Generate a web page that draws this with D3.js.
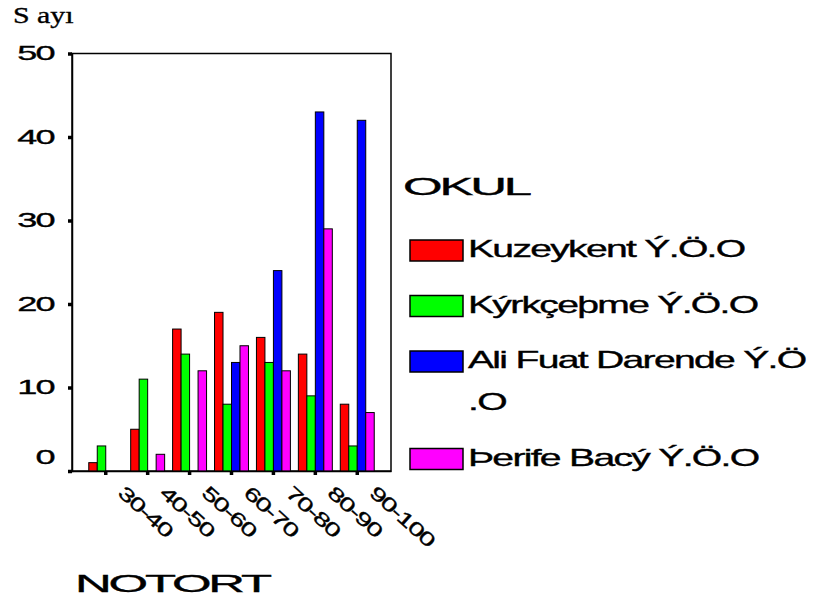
<!DOCTYPE html>
<html>
<head>
<meta charset="utf-8">
<script src="https://cdn.jsdelivr.net/npm/d3@7"></script>
<style>
  html, body { margin: 0; padding: 0; background: #fff; }
  svg { display: block; }
  text { font-family: "Liberation Sans", Arial, sans-serif; fill: #000; stroke: #000; stroke-width: 0.35; }
</style>
</head>
<body>
<svg id="chart" width="820" height="606"></svg>
<script>
// ---- data ----
const categories = ["30-40", "40-50", "50-60", "60-70", "70-80", "80-90", "90-100"];
const seriesNames = ["Kuzeykent Ý.Ö.O", "Kýrkçeþme Ý.Ö.O", "Ali Fuat Darende Ý.Ö.O", "Þerife Bacý Ý.Ö.O"];
const legendLines = [["Kuzeykent Ý.Ö.O"], ["Kýrkçeþme Ý.Ö.O"], ["Ali Fuat Darende Ý.Ö", ".O"], ["Þerife Bacý Ý.Ö.O"]];
const kuzeykent = [1, 5, 17, 19, 16, 14, 8];
const kirkcesme = [3, 11, 14, 8, 13, 9, 3];
const aliFuat   = [0, 0, 0, 13, 24, 43, 42];
const serife    = [0, 2, 12, 15, 12, 29, 7];
const yTicks = [0, 10, 20, 30, 40, 50];
const colors = ["#ff0000", "#00ff00", "#0000ff", "#ff00ff"];
const yTitle = "S ayı";
const xTitle = "NOTORT";
const legendTitle = "OKUL";

const seriesValues = [kuzeykent, kirkcesme, aliFuat, serife];

// ---- layout ----
const plot = { left: 72, right: 391, top: 53.5, bottom: 471 };
const svg = d3.select("#chart");

const x = d3.scaleBand().domain(categories).range([plot.left, plot.right])
  .paddingInner(0.19).paddingOuter(0.4);
const xs = d3.scaleBand().domain(d3.range(seriesNames.length)).range([0, x.bandwidth()]);
const y = d3.scaleLinear().domain([0, 50]).range([plot.bottom, plot.top]);

// stretched text helper
function stretched(parent, tx, ty, str, size, sx, anchor, opts) {
  opts = opts || {};
  const g = parent.append("g").attr("transform", `translate(${tx},${ty})` + (opts.rot ? ` rotate(${opts.rot})` : ""));
  const t = g.append("text").attr("transform", `scale(${sx},1)`)
    .attr("font-size", size).attr("text-anchor", anchor || "start").text(str);
  if (opts.family) t.style("font-family", opts.family);
  if (opts.ls != null) t.attr("letter-spacing", opts.ls);
  return t;
}

// frame
svg.append("rect")
  .attr("x", plot.left).attr("y", plot.top)
  .attr("width", plot.right - plot.left).attr("height", plot.bottom - plot.top)
  .attr("fill", "none").attr("stroke", "#000").attr("stroke-width", 1.5);

// bars
const groups = svg.append("g").selectAll("g").data(categories).join("g")
  .attr("transform", d => `translate(${x(d)},0)`);
groups.selectAll("rect")
  .data((c, ci) => seriesValues.map((vals, si) => ({ si, v: vals[ci] })).filter(d => d.v > 0))
  .join("rect")
  .attr("x", d => xs(d.si))
  .attr("width", xs.bandwidth())
  .attr("y", d => y(d.v))
  .attr("height", d => y(0) - y(d.v))
  .attr("fill", d => colors[d.si])
  .attr("stroke", "#000").attr("stroke-width", 1);

// y axis
const yAxis = svg.append("g").attr("transform", `translate(${plot.left},0)`)
  .call(d3.axisLeft(y).tickValues(yTicks).tickSize(4).tickFormat(d3.format("d")));
yAxis.select(".domain").attr("stroke-width", 1.5);
yAxis.selectAll(".tick line").attr("stroke-width", 3.5);
yAxis.selectAll(".tick text").remove();
yAxis.selectAll(".tick").each(function (d) {
  stretched(d3.select(this), -18, d === 0 ? -8 : 6, String(d), 21, 1.72, "end", { ls: -1 });
});

// x axis
const xAxis = svg.append("g").attr("transform", `translate(0,${plot.bottom})`)
  .call(d3.axisBottom(x).tickSize(4).tickSizeOuter(0));
xAxis.select(".domain").attr("stroke-width", 1.5);
xAxis.selectAll(".tick line").attr("stroke-width", 3.5);
xAxis.selectAll(".tick text").remove();
xAxis.selectAll(".tick").each(function (d) {
  stretched(d3.select(this), 11, 23.5, d, 19, 1.5, "start", { rot: 42, ls: -1 });
});

// titles
stretched(svg, 13, 23, yTitle, 23, 1.3, "start", { family: "'Liberation Serif', 'Times New Roman', serif" });
stretched(svg, 75, 592, xTitle, 24, 2.12, "start", { ls: -1.5 });

// legend
stretched(svg, 403, 195, legendTitle, 24, 2.12, "start", { ls: -1.5 });
const legStep = 55.5, lineStep = 42;
let ly = 240;
legendLines.forEach((lines, i) => {
  svg.append("rect").attr("x", 410).attr("y", ly).attr("width", 53).attr("height", 21)
    .attr("fill", colors[i]).attr("stroke", "#000").attr("stroke-width", 1.5);
  lines.forEach((ln, j) => {
    stretched(svg, 468, ly + 17 + j * lineStep, ln, 23, 1.7, "start", { ls: -1 });
  });
  ly += legStep + (lines.length - 1) * lineStep;
});
</script>
</body>
</html>
